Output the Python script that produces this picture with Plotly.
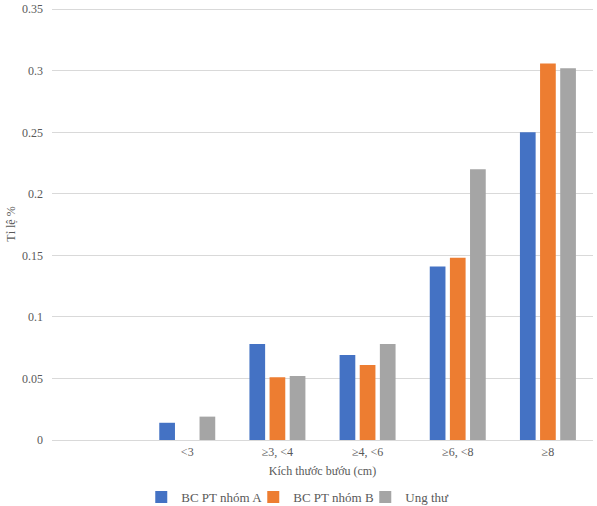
import plotly.graph_objects as go

# nhóm kích thước bướu (nhóm đầu để trống như bản gốc)
categories = [" ", "<3", "≥3, <4", "≥4, <6", "≥6, <8", "≥8"]

nhom_a = [None, 0.014, 0.078, 0.069, 0.141, 0.250]
nhom_b = [None, None, 0.051, 0.061, 0.148, 0.306]
ung_thu = [None, 0.019, 0.052, 0.078, 0.220, 0.302]

series = [
    ("BC PT nhóm A", nhom_a, "#4472C4"),
    ("BC PT nhóm B", nhom_b, "#ED7D31"),
    ("Ung thư", ung_thu, "#A5A5A5"),
]

FONT = "Liberation Serif"
TEXT_GREY = "#595959"
GRID = "#D9D9D9"

fig = go.Figure()

for name, values, color in series:
    fig.add_trace(go.Bar(
        x=categories,
        y=values,
        name=name,
        marker=dict(color=color, line=dict(width=0)),
    ))

fig.update_layout(
    width=597,
    height=506,
    margin=dict(l=52, r=4, t=8, b=66, autoexpand=False),
    paper_bgcolor="white",
    plot_bgcolor="white",
    font=dict(family=FONT, size=12, color=TEXT_GREY),
    barmode="group",
    bargap=0.33,
    bargroupgap=0.22,
    showlegend=True,
    legend=dict(
        orientation="h",
        x=0.165,
        xanchor="left",
        y=-0.132,
        yanchor="middle",
        font=dict(family=FONT, size=13, color=TEXT_GREY),
        itemwidth=30,
        entrywidth=67,
        tracegroupgap=0,
    ),
    xaxis=dict(
        type="category",
        categoryorder="array",
        categoryarray=categories,
        automargin=False,
        showgrid=False,
        showline=False,
        ticks="",
        ticklabelstandoff=3,
        tickfont=dict(family=FONT, size=12, color=TEXT_GREY),
        title=dict(text="Kích thước bướu (cm)", font=dict(family=FONT, size=12, color=TEXT_GREY), standoff=8),
    ),
    yaxis=dict(
        range=[0, 0.351],
        tick0=0,
        dtick=0.05,
        automargin=False,
        showgrid=True,
        gridcolor=GRID,
        gridwidth=1,
        zeroline=True,
        zerolinecolor=GRID,
        zerolinewidth=1,
        showline=False,
        ticks="",
        ticklabelstandoff=8,
        tickfont=dict(family=FONT, size=12, color=TEXT_GREY),
        title=dict(text="Tỉ lệ %", font=dict(family=FONT, size=12, color=TEXT_GREY), standoff=3),
    ),
)

# trang mặc định có lề 8px quanh body -> bỏ lề để hình khớp khung 597x506
fig.write_html(
    "out.html",
    config={"displayModeBar": False},
    post_script="document.body.style.margin = '0';",
)
